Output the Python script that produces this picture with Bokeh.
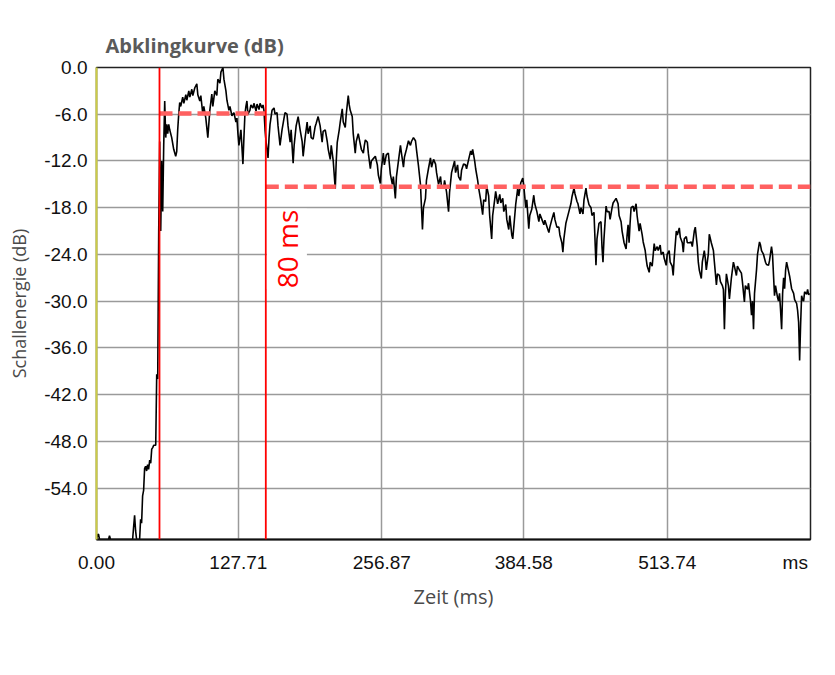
from bokeh.plotting import figure
from bokeh.models import Range1d, FixedTicker, NumeralTickFormatter, CustomJSTickFormatter, Span, Label, BoxAnnotation
from bokeh.embed import file_html
from bokeh.resources import INLINE

# ---------------- data ----------------
title_text = "Abklingkurve (dB)"
x_label = "Zeit (ms)"
y_label = "Schallenergie (dB)"
x_ticks = [0.0, 127.71, 256.87, 384.58, 513.74]
x_unit_tick = 629.0
y_ticks = [0, -6, -12, -18, -24, -30, -36, -42, -48, -54]
x_max = 642.7
y_min = -60.6

t_start = 56.7        # direct sound
t_end = 152.4         # end of early window
level_early = -5.9
level_late = -15.3
window_label = "80 ms"

t_ms = [
    0, 0.9, 1.8, 2.7, 10.8, 11.7, 12.6, 32.5, 33.4, 34.3, 35.2, 36.1, 38.8, 39.7, 40.6, 41.5,
    42.4, 43.3, 44.2, 45.1, 46.0, 46.9, 47.9, 48.8, 49.7, 50.6, 51.5, 53.3, 54.2, 55.1, 56.0,
    56.9, 57.8, 58.7, 59.6, 60.5, 61.4, 62.3, 63.2, 64.1, 65.0, 65.9, 67.7, 69.5, 71.3, 72.2,
    73.1, 74.0, 74.9, 75.8, 77.6, 78.6, 80.4, 81.3, 83.1, 84.0, 85.8, 86.7, 88.5, 90.3, 91.2,
    93.0, 93.9, 95.7, 96.6, 98.4, 100.2, 102.0, 103.8, 104.7, 106.5, 108.3, 109.2, 111.1, 112.0,
    113.8, 114.7, 116.5, 117.4, 119.2, 120.1, 121.9, 123.7, 125.5, 126.4, 127.3, 128.2, 130.0,
    131.8, 132.7, 133.6, 134.5, 135.4, 136.3, 138.1, 139.0, 140.8, 141.7, 143.6, 144.5, 146.3,
    147.2, 149.0, 149.9, 150.8, 151.7, 152.6, 154.4, 155.3, 156.2, 158.0, 159.8, 160.7, 162.5,
    163.4, 165.2, 167.0, 168.8, 169.7, 171.5, 172.4, 174.3, 175.2, 177.0, 177.9, 179.7, 181.5,
    183.3, 185.1, 186.0, 187.8, 189.6, 190.5, 192.3, 193.2, 195.0, 196.8, 197.7, 199.5, 201.3,
    203.1, 204.0, 205.9, 207.7, 208.6, 210.4, 211.3, 213.1, 214.9, 215.8, 216.7, 218.5, 219.4,
    221.2, 222.1, 223.9, 224.8, 226.6, 227.5, 228.4, 230.2, 231.1, 232.9, 233.8, 235.6, 237.4,
    238.4, 240.2, 241.1, 242.0, 243.8, 244.7, 246.5, 247.4, 249.2, 251.0, 252.8, 253.7, 255.5,
    256.4, 258.2, 259.1, 260.9, 262.7, 264.5, 266.3, 267.2, 269.0, 270.0, 271.8, 273.6, 274.5,
    276.3, 277.2, 279.0, 280.8, 282.6, 283.5, 285.3, 287.1, 288.0, 289.8, 291.6, 293.4, 294.3,
    296.1, 297.0, 298.8, 300.6, 301.6, 303.4, 305.2, 306.1, 307.9, 309.7, 310.6, 312.4, 313.3,
    315.1, 316.9, 317.8, 319.6, 320.5, 322.3, 323.2, 325.0, 325.9, 327.7, 328.6, 330.4, 332.2,
    333.1, 335.0, 336.8, 337.7, 338.6, 340.4, 341.3, 343.1, 344.0, 345.8, 347.6, 348.5, 350.3,
    351.2, 353.0, 353.9, 355.7, 356.6, 358.4, 359.3, 361.1, 363.0, 363.9, 365.7, 366.6, 368.4,
    369.3, 371.1, 372.0, 373.8, 374.7, 376.5, 377.4, 379.2, 380.1, 381.9, 383.7, 384.6, 386.4,
    387.3, 389.1, 390.0, 391.8, 393.6, 394.5, 396.4, 398.2, 399.1, 400.9, 402.7, 403.6, 405.4,
    407.2, 408.1, 409.9, 411.7, 412.6, 414.4, 416.2, 417.1, 418.9, 419.8, 420.7, 422.5, 423.4,
    425.2, 427.0, 428.0, 429.8, 430.7, 432.5, 433.4, 435.2, 436.1, 437.9, 438.8, 440.6, 441.5,
    443.3, 445.1, 446.0, 447.8, 449.6, 450.5, 452.3, 454.1, 455.0, 455.9, 456.8, 458.7, 459.6,
    461.4, 462.3, 464.1, 465.0, 466.8, 467.7, 469.5, 470.4, 472.2, 473.1, 474.9, 476.7, 477.6,
    478.5, 479.4, 480.3, 481.2, 483.0, 483.9, 485.7, 486.6, 488.4, 489.3, 491.2, 492.1, 493.9,
    494.8, 495.7, 497.5, 498.4, 500.2, 502.0, 502.9, 504.7, 505.6, 507.4, 508.3, 510.1, 511.0,
    512.8, 513.7, 515.5, 516.4, 518.2, 519.1, 520.0, 521.9, 522.8, 524.6, 525.5, 527.3, 528.2,
    529.1, 530.9, 531.8, 533.6, 535.4, 536.3, 538.1, 539.0, 540.8, 541.7, 542.6, 544.4, 545.3,
    547.1, 548.0, 548.9, 550.7, 551.6, 553.4, 555.3, 556.2, 558.0, 558.9, 560.7, 561.6, 563.4,
    564.3, 565.2, 566.1, 567.0, 568.8, 569.7, 571.5, 573.3, 574.2, 576.0, 576.9, 578.7, 580.5,
    581.4, 583.2, 584.1, 586.0, 586.9, 588.7, 589.6, 590.5, 591.4, 592.3, 594.1, 595.0, 596.8,
    597.7, 598.6, 600.4, 602.2, 603.1, 604.9, 605.8, 607.6, 608.5, 610.3, 611.2, 613.0, 613.9,
    614.8, 615.7, 616.7, 617.6, 618.5, 619.4, 620.3, 621.2, 622.1, 623.9, 624.8, 625.7, 627.5,
    628.4, 630.2, 631.1, 632.0, 632.9, 633.8, 634.7, 635.6, 636.5, 637.4, 639.2, 640.1, 641.0,
    641.9,
]

level_db = [
    -60.6, -60.0, -59.9, -60.6, -60.6, -60.1, -60.6, -60.6, -59.0, -57.5, -59.5, -60.6, -60.6, -58.0, -58.5, -55.0,
    -54.3, -51.5, -51.2, -51.8, -51.0, -51.6, -50.4, -50.8, -49.0, -48.8, -48.5, -48.5, -39.4, -40.0, -21.0,
    -9.5, -21.0, -12.0, -18.5, -10.0, -4.3, -9.0, -7.3, -8.5, -7.3, -8.0, -9.0, -10.5, -11.4, -10.8,
    -8.0, -6.0, -4.5, -5.0, -3.8, -4.6, -3.5, -4.2, -3.0, -3.8, -2.8, -3.6, -2.6, -2.1, -3.5,
    -4.3, -3.6, -6.0, -5.0, -6.5, -9.0, -5.5, -3.4, -5.0, -3.0, -3.6, -1.5, -2.0, -0.6,
    0.0, -1.5, -3.0, -4.2, -5.5, -5.0, -6.2, -5.8, -7.0, -6.5, -8.5, -10.0, -8.0,
    -12.4, -9.0, -6.0, -5.0, -4.3, -6.0, -5.5, -4.8, -5.2, -4.6, -5.6, -4.7, -5.4,
    -4.6, -5.2, -4.8, -5.6, -8.0, -9.5, -11.6, -9.0, -7.3, -5.5, -5.2, -6.0, -5.8,
    -7.5, -10.0, -8.0, -6.5, -5.8, -6.0, -7.5, -9.6, -8.0, -12.3, -10.0, -7.5, -6.3,
    -8.0, -9.5, -11.4, -9.0, -7.0, -8.5, -7.5, -9.0, -9.2, -7.6, -7.2, -6.3, -7.5,
    -9.6, -8.2, -8.0, -9.5, -10.5, -11.8, -10.0, -12.0, -15.6, -12.0, -9.6, -8.0, -7.0,
    -5.3, -7.0, -7.7, -6.0, -3.6, -4.8, -5.5, -6.3, -8.5, -11.0, -9.5, -8.5, -9.8,
    -10.5, -11.0, -10.0, -9.3, -9.6, -11.0, -13.0, -12.0, -11.7, -11.4, -12.5, -13.8, -14.9,
    -13.0, -11.0, -12.5, -11.2, -11.0, -13.7, -15.0, -14.0, -16.8, -14.0, -12.0, -10.0, -11.0,
    -12.8, -11.5, -10.5, -9.4, -10.0, -9.5, -9.0, -9.4, -10.5, -12.6, -15.0, -20.8, -18.0,
    -16.8, -14.5, -13.0, -11.6, -12.8, -11.8, -12.4, -13.5, -15.0, -14.0, -15.5, -15.5, -14.5,
    -16.0, -18.5, -16.0, -13.5, -13.0, -12.0, -13.5, -12.5, -14.0, -14.5, -13.2, -12.4, -12.5,
    -13.0, -11.8, -10.7, -11.2, -10.5, -12.0, -13.0, -14.5, -15.5, -17.0, -18.9, -17.0, -17.2,
    -15.2, -16.5, -19.0, -22.0, -19.0, -17.0, -15.9, -17.5, -16.3, -17.4, -16.8, -18.5, -17.6,
    -19.5, -20.8, -19.0, -21.5, -22.0, -19.0, -17.5, -15.5, -16.5, -14.8, -14.2, -15.2, -18.0,
    -17.0, -20.7, -19.0, -18.2, -16.4, -17.5, -18.5, -19.8, -18.8, -19.5, -20.2, -19.6, -20.4,
    -21.2, -20.5, -19.5, -18.6, -19.5, -20.5, -20.5, -21.5, -22.5, -23.7, -22.0, -20.0, -19.5,
    -18.5, -17.5, -16.6, -15.5, -16.2, -17.2, -17.5, -18.8, -18.0, -18.8, -17.0, -15.5, -16.5,
    -17.6, -18.0, -19.0, -18.6, -25.4, -22.0, -20.0, -19.8, -23.0, -25.0, -22.0, -17.8, -18.5,
    -18.5, -19.5, -18.0, -17.4, -17.0, -16.8, -17.5, -19.0, -19.8, -21.0, -22.5, -23.3, -21.5,
    -20.2, -22.5, -20.0, -18.0, -17.8, -18.5, -17.5, -19.0, -21.0, -20.0, -21.5, -22.4, -23.5,
    -24.6, -25.5, -26.3, -25.0, -25.5, -22.6, -23.5, -23.0, -23.5, -22.8, -24.0, -23.7, -24.5,
    -25.4, -24.0, -23.5, -25.0, -25.5, -26.7, -24.5, -21.0, -21.5, -20.6, -21.8, -22.5, -23.7,
    -22.0, -21.7, -22.5, -22.5, -22.4, -23.0, -21.0, -20.5, -23.0, -25.0, -26.0, -27.1, -25.0,
    -23.5, -24.5, -26.0, -24.0, -21.4, -22.5, -23.5, -25.0, -27.9, -26.5, -26.7, -27.5, -28.0,
    -28.5, -33.6, -29.0, -26.5, -28.0, -29.7, -27.0, -25.0, -25.5, -26.7, -25.5, -26.0, -26.4,
    -27.5, -30.1, -28.0, -28.5, -27.7, -30.0, -31.8, -30.0, -33.6, -29.0, -26.0, -24.0, -22.4,
    -22.8, -23.5, -24.0, -25.0, -25.3, -25.4, -24.8, -23.0, -24.0, -29.3, -28.0, -29.5, -30.0,
    -29.0, -31.0, -33.6, -29.0, -27.0, -28.4, -26.0, -25.0, -25.6, -26.8, -27.6, -28.4, -29.0,
    -29.8, -30.3, -31.2, -32.7, -37.6, -33.0, -29.3, -29.8, -30.0, -28.8, -29.1, -28.5, -29.2,
    -29.0,
]

# ---------------- figure ----------------
p = figure(width=819, height=659, output_backend="svg", toolbar_location=None,
           x_range=Range1d(0, x_max), y_range=Range1d(y_min, 0),
           min_border_left=96, min_border_right=9, min_border_top=67, min_border_bottom=120,
           background_fill_color="white", border_fill_color="white")

p.title.text = title_text
p.title.align = "left"
p.title.offset = 9
p.title.standoff = 17
p.title.text_font = "Open Sans"
p.title.text_font_style = "bold"
p.title.text_font_size = "20px"
p.title.text_color = "#5a5a5a"

p.outline_line_color = "#222222"
p.outline_line_width = 1.5

# page frame strips (light blue window edge)
p.add_layout(BoxAnnotation(left=0, right=819, top=0, bottom=7,
                           left_units="canvas", right_units="canvas",
                           top_units="canvas", bottom_units="canvas",
                           fill_color="#ddf2fc", fill_alpha=1, line_color=None))
p.add_layout(BoxAnnotation(left=0, right=5, top=0, bottom=580,
                           left_units="canvas", right_units="canvas",
                           top_units="canvas", bottom_units="canvas",
                           fill_color="#ddf2fc", fill_alpha=1, line_color=None))

# grid
p.xgrid.ticker = FixedTicker(ticks=x_ticks[1:])
p.ygrid.ticker = FixedTicker(ticks=y_ticks[1:])
for g in (p.xgrid, p.ygrid):
    g.grid_line_color = "#9a9a9a"
    g.grid_line_width = 1.5

# axes
p.xaxis.ticker = FixedTicker(ticks=x_ticks + [x_unit_tick])
p.xaxis.formatter = CustomJSTickFormatter(code="return tick > 600 ? 'ms' : tick.toFixed(2);")
p.yaxis.ticker = FixedTicker(ticks=y_ticks)
p.yaxis.formatter = NumeralTickFormatter(format="0.0")
for ax in (p.xaxis, p.yaxis):
    ax.major_tick_line_color = None
    ax.minor_tick_line_color = None
    ax.major_tick_out = 0
    ax.major_tick_in = 0
    ax.minor_tick_out = 0
    ax.minor_tick_in = 0
    ax.major_label_text_font = "Liberation Sans"
    ax.major_label_text_font_size = "19px"
    ax.major_label_text_color = "#111111"
    ax.axis_label_text_font = "Open Sans"
    ax.axis_label_text_font_style = "normal"
    ax.axis_label_text_color = "#4a4a4a"
p.xaxis.axis_label = x_label
p.yaxis.axis_label = y_label
p.xaxis.axis_label_text_font_size = "20px"
p.yaxis.axis_label_text_font_size = "18px"
p.xaxis.axis_line_color = "#111111"
p.xaxis.axis_line_width = 2
p.yaxis.axis_line_color = "#cccc44"
p.yaxis.axis_line_width = 2
p.xaxis.major_label_standoff = 12
p.xaxis.axis_label_standoff = 7
p.yaxis.major_label_standoff = 9
p.yaxis.axis_label_standoff = 10

# curve
p.line(t_ms, level_db, line_color="black", line_width=1.6)

# early / late window markers
p.line([t_start, t_end], [level_early, level_early], line_color="#ff6060",
       line_width=4.5, line_dash="13 6")
p.line([t_end, x_max], [level_late, level_late], line_color="#ff6060",
       line_width=4.5, line_dash="13 6")
for t in (t_start, t_end):
    p.add_layout(Span(location=t, dimension="height", line_color="#ff0000", line_width=1.8))

lbl = Label(x=(t_end + 19), y=-23.3, text=window_label, angle=1.5708,
            text_align="center", text_baseline="middle",
            text_font="Open Sans", text_font_size="28px", text_color="#ff0000",
            background_fill_color="white", padding=1)
p.add_layout(lbl)

open("out.html", "w").write(file_html(p, INLINE))
